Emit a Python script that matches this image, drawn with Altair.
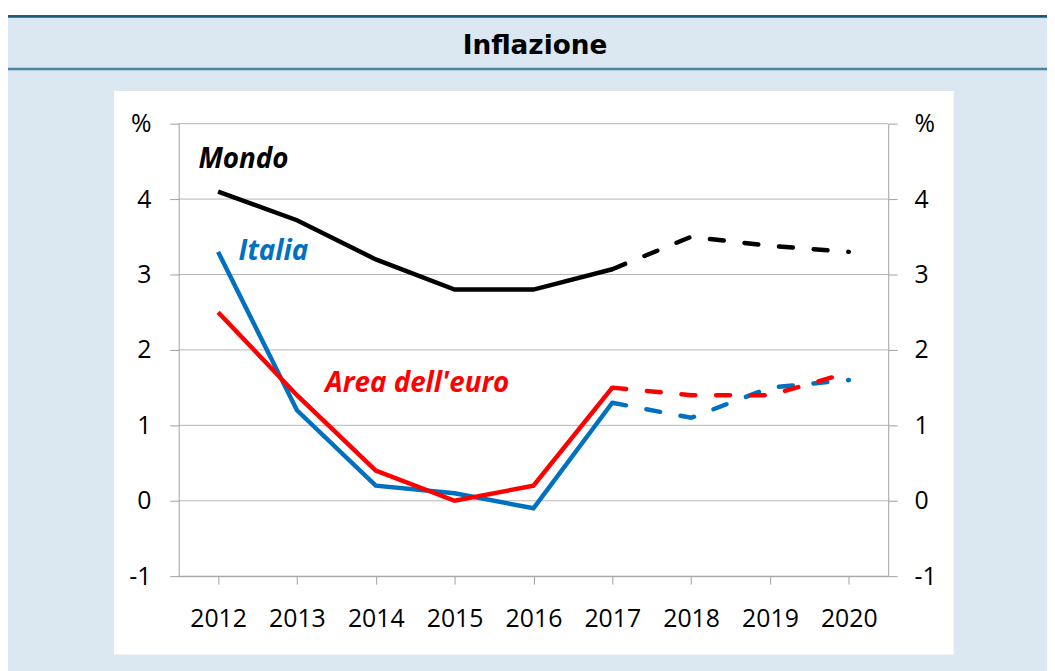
import altair as alt
import pandas as pd

# ---- data ----
years_solid = [2012, 2013, 2014, 2015, 2016, 2017]
mondo_solid = [4.1, 3.72, 3.2, 2.8, 2.8, 3.07]
italia_solid = [3.3, 1.2, 0.2, 0.1, -0.1, 1.3]
euro_solid = [2.5, 1.4, 0.4, 0.0, 0.2, 1.5]

years_fc = [2017, 2018, 2019, 2020]
mondo_fc = [3.07, 3.5, 3.38, 3.3]
italia_fc = [1.3, 1.1, 1.5, 1.6]
euro_fc = [1.5, 1.4, 1.4, 1.7]

series_names = ["Mondo", "Italia", "Area dell'euro"]
series_colors = ["#000000", "#0070c0", "#ff0000"]

label_x = [2011.75, 2012.26, 2013.36]
label_y = [4.41, 3.19, 1.44]

y_ticks = [-1, 0, 1, 2, 3, 4, 5]
x_ticks = [2012, 2013, 2014, 2015, 2016, 2017, 2018, 2019, 2020]

W, H = 715, 456
BG = "#dce8f1"
GRID = "#b5b5b5"
AXC = "#a0a0a0"
TICKFONT = "Open Sans"

xscale = alt.Scale(domain=[2011.5, 2020.5], nice=False, zero=False)
yscale = alt.Scale(domain=[-1, 5], nice=False, zero=False)
color_scale = alt.Scale(domain=series_names, range=series_colors)

one = pd.DataFrame({"a": [0]})


def rect(x1, x2, y1, y2, color):
    return alt.Chart(one).mark_rect(color=color, strokeWidth=0).encode(
        x=alt.value(x1), x2=alt.value(x2), y=alt.value(y1), y2=alt.value(y2)
    )


bg_layers = [
    rect(-180, 880, -125, -109.5, "#ffffff"),
    rect(-180, 880, -109.5, -106.8, "#1b5b7e"),
    rect(-180, 880, -56.3, -53.7, "#4a82a2"),
    rect(-65, 781, -33, 535, "#ffffff"),
]

title = alt.Chart(one).mark_text(
    text="Inflazione", font="DejaVu Sans", fontSize=26.5, fontWeight="bold",
    color="#000000", align="center", baseline="alphabetic"
).encode(x=alt.value(359), y=alt.value(-70.5))

grid_df = pd.DataFrame({"v": y_ticks})
label_expr = "datum.value == 5 ? '%' : '' + datum.value"

grid = alt.Chart(grid_df).mark_rule(color=GRID, strokeWidth=1).encode(
    y=alt.Y("v:Q", scale=yscale, title=None,
            axis=alt.Axis(orient="left", values=y_ticks, labelExpr=label_expr,
                          grid=False, tickSize=9, tickColor=AXC, domainColor=AXC,
                          labelFont=TICKFONT, labelFontSize=25, labelColor="#000000",
                          labelPadding=19, zindex=1)),
    x=alt.value(0), x2=alt.value(W),
)

right_axis = alt.Chart(grid_df).mark_rule(opacity=0).encode(
    y=alt.Y("v:Q", scale=yscale, title=None,
            axis=alt.Axis(orient="right", values=y_ticks, labelExpr=label_expr,
                          grid=False, tickSize=9, tickColor=AXC, domainColor=AXC,
                          labelFont=TICKFONT, labelFontSize=25, labelColor="#000000",
                          labelPadding=17, zindex=1)),
    x=alt.value(0), x2=alt.value(W),
)

xtick_df = pd.DataFrame({"year": x_ticks})
x_axis_layer = alt.Chart(xtick_df).mark_tick(opacity=0).encode(
    x=alt.X("year:Q", scale=xscale, title=None,
            axis=alt.Axis(orient="bottom", values=x_ticks, format="d", grid=False,
                          tickSize=8, tickColor=AXC, domainColor=AXC,
                          labelFont=TICKFONT, labelFontSize=25, labelColor="#000000",
                          labelPadding=23, zindex=1)),
    y=alt.value(H),
)

solid_vals = [mondo_solid, italia_solid, euro_solid]
fc_vals = [mondo_fc, italia_fc, euro_fc]

line_layers = []
for i, name in enumerate(series_names):
    dfs = pd.DataFrame({"year": years_solid, "value": solid_vals[i], "serie": name})
    dff = pd.DataFrame({"year": years_fc, "value": fc_vals[i], "serie": name})
    solid = alt.Chart(dfs).mark_line(strokeWidth=4.5, strokeJoin="miter").encode(
        x=alt.X("year:Q", scale=xscale, axis=None),
        y=alt.Y("value:Q", scale=yscale, axis=None),
        color=alt.Color("serie:N", scale=color_scale, legend=None),
    )
    dashed = alt.Chart(dff).mark_line(strokeWidth=4.5, strokeDash=[14, 21],
                                      strokeCap="round").encode(
        x=alt.X("year:Q", scale=xscale, axis=None),
        y=alt.Y("value:Q", scale=yscale, axis=None),
        color=alt.Color("serie:N", scale=color_scale, legend=None),
    )
    line_layers += [solid, dashed]

labels_df = pd.DataFrame({"x": label_x, "y": label_y, "serie": series_names})
labels = alt.Chart(labels_df).mark_text(
    align="left", baseline="alphabetic", font="Open Sans", fontSize=28,
    fontWeight="bold", fontStyle="italic"
).encode(
    x=alt.X("x:Q", scale=xscale, axis=None),
    y=alt.Y("y:Q", scale=yscale, axis=None),
    text="serie:N",
    color=alt.Color("serie:N", scale=color_scale, legend=None),
)

chart = alt.layer(
    *bg_layers, title, grid, right_axis, x_axis_layer, *line_layers, labels
).resolve_axis(x="independent", y="independent").properties(
    width=W, height=H,
    autosize=alt.AutoSizeParams(type="none"),
    padding={"left": 172, "top": 114, "right": 160, "bottom": 93},
    background=BG,
).configure_view(stroke=None)

chart.save("out.html", embed_options={"renderer": "svg", "actions": False})
